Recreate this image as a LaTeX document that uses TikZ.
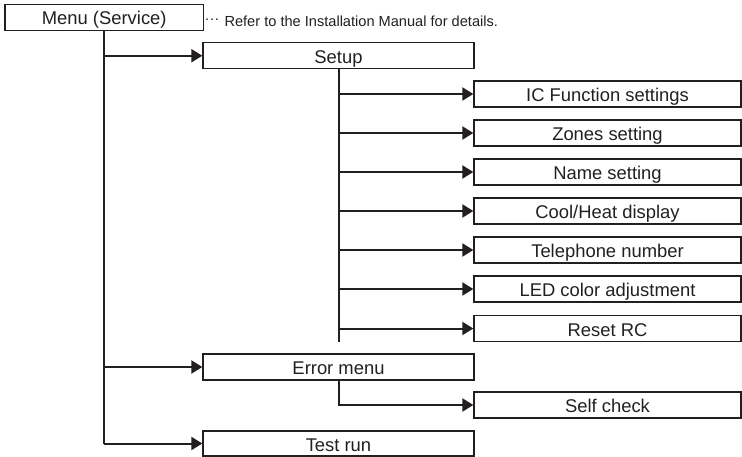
\documentclass[tikz,border=0pt]{standalone}
\usepackage{fontspec}
\setmainfont{Liberation Sans}
\usetikzlibrary{arrows.meta}
\definecolor{ink}{HTML}{231F20}

\begin{document}
\begin{tikzpicture}[x=1pt,y=-1pt,
    box/.style={draw=ink,line width=1.3pt,minimum height=26pt,inner sep=0pt,
      text=ink,text height=15pt,text depth=0pt,font=\fontsize{18.4}{20}\selectfont},
    item/.style={box,minimum width=271pt},
    leaf/.style={box,minimum width=267pt},
    note/.style={text=ink,inner sep=0pt,font=\fontsize{14.6}{16}\selectfont},
    wire/.style={draw=ink,line width=2pt},
    feed/.style={wire,-{Triangle[length=11pt,width=13pt]}}]
  \useasboundingbox (0,0) rectangle (742,457);

  \node[box,minimum width=198.5pt] (menu) at (104.25,17.5) {Menu (Service)};
  \node[note,anchor=base west] (hint) at (205,26.5)
    {\raisebox{0.42em}{.\kern0.8pt.\kern0.8pt.}\hspace{1.5pt} Refer to the Installation Manual for details.};

  \node[item] (setup) at (338.5,55.75) {Setup};
  \node[leaf] (icfunc) at (607.5,94) {IC Function settings};
  \node[leaf] (zones) at (607.5,133) {Zones setting};
  \node[leaf] (name) at (607.5,172) {Name setting};
  \node[leaf] (coolheat) at (607.5,211) {Cool/Heat display};
  \node[leaf] (phone) at (607.5,250) {Telephone number};
  \node[leaf] (led) at (607.5,289) {LED color adjustment};
  \node[leaf] (reset) at (607.5,328.5) {Reset RC};

  \node[item] (error) at (338.5,367) {Error menu};
  \node[leaf] (selfcheck) at (607.5,405) {Self check};
  \node[item,minimum height=25pt] (testrun) at (338.5,443.5) {Test run};

  % main trunk
  \draw[wire] (menu.south) -- (menu.south |- testrun.west);
  \draw[feed] (menu.south |- setup.west) -- (setup.west);
  \draw[feed] (menu.south |- error.west) -- (error.west);
  \draw[feed] (menu.south |- testrun.west) -- (testrun.west);

  % setup branch
  \draw[wire] (setup.south) -- (setup.south |- reset.south);
  \draw[feed] (setup.south |- icfunc.west) -- (icfunc.west);
  \draw[feed] (setup.south |- zones.west) -- (zones.west);
  \draw[feed] (setup.south |- name.west) -- (name.west);
  \draw[feed] (setup.south |- coolheat.west) -- (coolheat.west);
  \draw[feed] (setup.south |- phone.west) -- (phone.west);
  \draw[feed] (setup.south |- led.west) -- (led.west);
  \draw[feed] (setup.south |- reset.west) -- (reset.west);

  % error branch
  \draw[feed] (error.south) |- (selfcheck.west);
\end{tikzpicture}
\end{document}
